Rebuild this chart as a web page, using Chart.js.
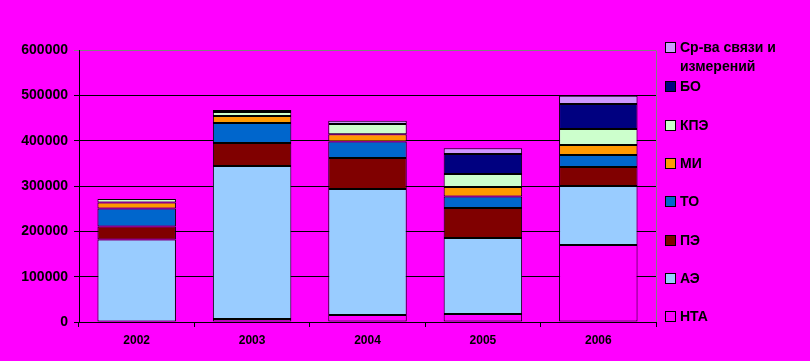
<!DOCTYPE html>
<html lang="ru">
<head>
    <meta charset="UTF-8">
    <title>Структура по годам</title>
    <script src="https://cdn.jsdelivr.net/npm/chart.js"></script>
    <style>
        body {
            margin: 0;
            background: #ff00ff;
            font-family: "Liberation Sans", Arial, sans-serif;
        }
        .wrap {
            position: relative;
            width: 810px;
            height: 361px;
        }
        #legend {
            position: absolute;
            left: 665px;
            top: 0;
            width: 145px;
        }
        .item {
            position: absolute;
            left: 0;
            font-size: 14px;
            font-weight: bold;
            line-height: 19px;
            color: #000;
            white-space: nowrap;
        }
        .item .box {
            position: absolute;
            left: 0;
            top: 4px;
            width: 9px;
            height: 9px;
            border: 1px solid #000;
        }
        .item .txt {
            display: block;
            padding-left: 15px;
        }
    </style>
</head>
<body>
    <div class="wrap">
        <canvas id="chart"></canvas>
        <div id="legend"></div>
    </div>

    <script>
        // годы
        const years = ['2002', '2003', '2004', '2005', '2006'];

        // серии снизу вверх
        const nta   = [null, 6600, 15400, 17600, 169900];
        const ae    = [182200, 337500, 278000, 167700, 130100];
        const pe    = [28700, 50800, 68400, 66200, 41900];
        const to    = [39700, 44100, 36600, 25600, 26500];
        const mi    = [13200, 15400, 15500, 20700, 22100];
        const kpe   = [7500, 8900, 22900, 28700, 35200];
        const bo    = [null, null, null, 44100, 55200];
        const svyaz = [null, 4400, 7300, 12400, 18300];

        const yTicks = [0, 100000, 200000, 300000, 400000, 500000, 600000];

        const series = [
            { label: 'НТА', data: nta, color: '#ff00ff' },
            { label: 'АЭ', data: ae, color: '#99ccff' },
            { label: 'ПЭ', data: pe, color: '#800000' },
            { label: 'ТО', data: to, color: '#0066cc' },
            { label: 'МИ', data: mi, color: '#ff9900' },
            { label: 'КПЭ', data: kpe, color: '#ccffcc' },
            { label: 'БО', data: bo, color: '#000080' },
            { label: 'Ср-ва связи и измерений', data: svyaz, color: '#cc99ff' }
        ];

        const yFont = { family: '"Liberation Sans", Arial, sans-serif', size: 14, weight: 'bold' };
        const xFont = { family: '"Liberation Sans", Arial, sans-serif', size: 12, weight: 'bold' };

        // рамка области построения (серая справа)
        const plotBorder = {
            id: 'plotBorder',
            beforeDatasetsDraw(chart) {
                const a = chart.chartArea;
                const ctx = chart.ctx;
                ctx.save();
                ctx.strokeStyle = '#808080';
                ctx.lineWidth = 1;
                ctx.beginPath();
                ctx.moveTo(Math.round(a.right) + 0.5, Math.round(a.top) + 0.5);
                ctx.lineTo(Math.round(a.right) + 0.5, Math.round(a.bottom));
                ctx.stroke();
                ctx.restore();
            }
        };

        new Chart(document.getElementById('chart'), {
            type: 'bar',
            data: {
                labels: years,
                datasets: series.map(s => ({
                    label: s.label,
                    data: s.data,
                    backgroundColor: s.color,
                    borderColor: '#000',
                    borderWidth: 1,
                    borderSkipped: false,
                    barPercentage: 0.68,
                    categoryPercentage: 1
                }))
            },
            options: {
                responsive: true,
                maintainAspectRatio: false,
                animation: false,
                layout: { padding: { left: 0, top: 50, right: 154, bottom: 0 } },
                plugins: {
                    legend: { display: false },
                    tooltip: { enabled: false }
                },
                scales: {
                    x: {
                        stacked: true,
                        afterFit(scale) { scale.height = 39; },
                        grid: {
                            offset: true,
                            drawOnChartArea: false,
                            drawTicks: true,
                            tickLength: 5,
                            color: '#000'
                        },
                        border: { color: '#000', width: 1 },
                        ticks: { color: '#000', font: xFont, padding: 6, maxRotation: 0 }
                    },
                    y: {
                        stacked: true,
                        min: 0,
                        max: 600000,
                        afterFit(scale) { scale.width = 79; },
                        afterBuildTicks(scale) {
                            scale.ticks = yTicks.map(v => ({ value: v }));
                        },
                        grid: {
                            color: c => (c.tick && c.tick.value === 600000) ? '#808080' : '#000',
                            tickLength: 5,
                            lineWidth: 1
                        },
                        border: { color: '#000', width: 1 },
                        ticks: {
                            color: '#000',
                            font: yFont,
                            padding: 6,
                            callback: v => String(v)
                        }
                    }
                }
            },
            plugins: [plotBorder]
        });

        // легенда справа, сверху вниз в обратном порядке
        const legend = document.getElementById('legend');
        const legendRows = [38, 77, 116, 154, 192, 231, 269, 307];
        series.slice().reverse().forEach((s, i) => {
            const div = document.createElement('div');
            div.className = 'item';
            div.style.top = legendRows[i] + 'px';
            const box = document.createElement('span');
            box.className = 'box';
            box.style.background = s.color;
            const txt = document.createElement('span');
            txt.className = 'txt';
            if (s.label.startsWith('Ср-ва')) {
                txt.innerHTML = 'Ср-ва связи и<br>измерений';
            } else {
                txt.textContent = s.label;
            }
            div.appendChild(box);
            div.appendChild(txt);
            legend.appendChild(div);
        });
    </script>
</body>
</html>
